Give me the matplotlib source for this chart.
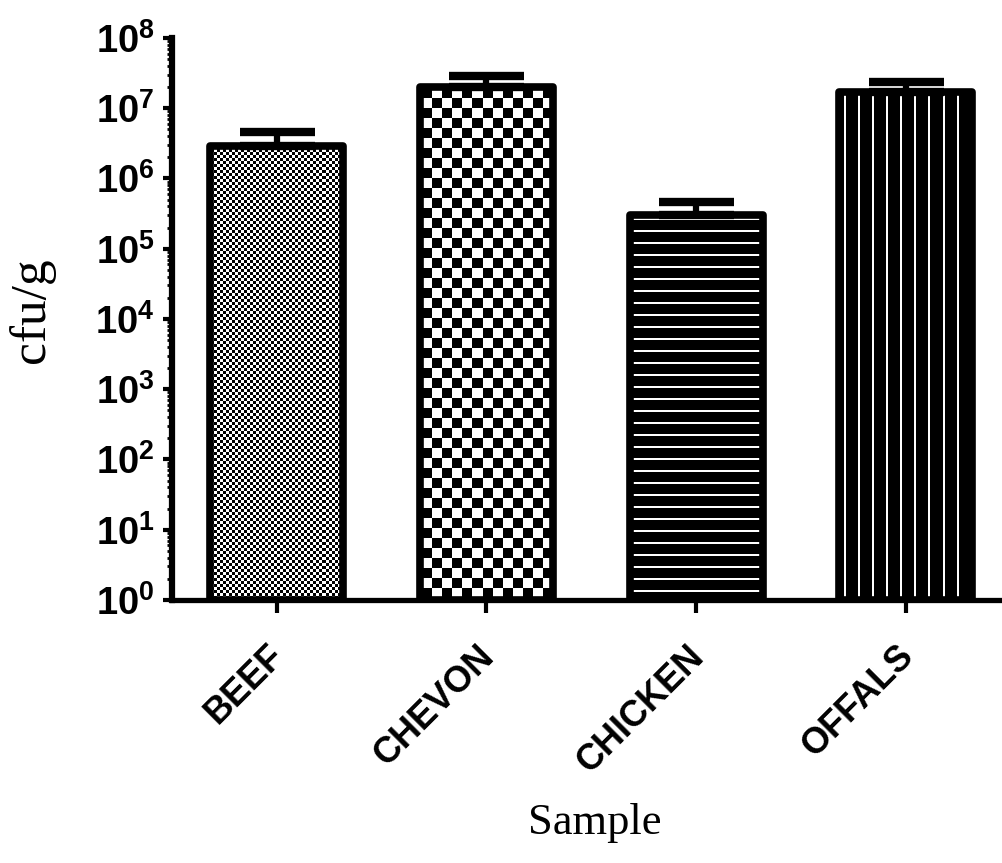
import numpy as np
import matplotlib
matplotlib.use('Agg')
import matplotlib.pyplot as plt
from matplotlib.image import AxesImage
from matplotlib.transforms import ScaledTranslation
from matplotlib.ticker import LogLocator, FuncFormatter, NullFormatter

# data
samples = ['BEEF', 'CHEVON', 'CHICKEN', 'OFFALS']
counts = [2.9e6, 2.0e7, 3.0e5, 1.7e7]      # bar tops, cfu/g
upper = [4.6e6, 2.9e7, 4.6e5, 2.35e7]      # error bar tops
fills = ['fine', 'checker', 'hlines', 'vlines']

plt.rcParams['font.family'] = ['Liberation Sans', 'DejaVu Sans']
plt.rcParams['mathtext.fontset'] = 'custom'
plt.rcParams['mathtext.bf'] = 'Liberation Sans:bold'
plt.rcParams['mathtext.rm'] = 'Liberation Sans:bold'


def pattern(kind, H, W):
    r, c = np.mgrid[0:H, 0:W]
    if kind == 'fine':
        return ((r // 3 + c // 3) % 2).astype(float)
    if kind == 'checker':
        return ((r // 10 + c // 10) % 2).astype(float)
    if kind == 'hlines':
        return (r % 12 < 2).astype(float)
    return (c % 14 < 2).astype(float)


fig = plt.figure(figsize=(10.02, 8.63), dpi=100)
ax = fig.add_axes([0.1717, 0.3048, 0.8263, 0.6512])
ax.set_yscale('log')

x = np.arange(len(samples))
width = 0.635
bars = ax.bar(x, np.array(counts) - 1, width, bottom=1, color='white',
              edgecolor='none', zorder=1)

ext = ax.get_window_extent()
W, H = int(round(ext.width)), int(round(ext.height))
for rect, kind in zip(bars, fills):
    im = AxesImage(ax, cmap='gray', interpolation='nearest', origin='upper',
                   extent=(0, 1, 0, 1), transform=ax.transAxes, zorder=1.5)
    im.set_data(pattern(kind, H, W))
    im.set_clim(0, 1)
    ax.add_image(im)
    im.set_clip_path(rect)

err = [np.zeros(len(counts)), np.array(upper) - np.array(counts)]
ax.errorbar(x, counts, yerr=err, fmt='none', ecolor='black', elinewidth=4.5,
            capsize=27, capthick=6, zorder=1.8)

ax.bar(x, np.array(counts) - 1, width, bottom=1, fill=False, edgecolor='black',
       linewidth=5.5, joinstyle='round', zorder=2)

ax.set_xlim(-0.5, 3.45)
ax.set_ylim(1, 1e8)

ax.yaxis.set_major_locator(LogLocator(base=10, numticks=20))
ax.yaxis.set_minor_locator(LogLocator(base=10, subs=np.arange(2, 10), numticks=20))
ax.yaxis.set_major_formatter(FuncFormatter(lambda v, p: r'$\mathbf{10^{%d}}$' % round(np.log10(v))))
ax.yaxis.set_minor_formatter(NullFormatter())
ax.tick_params(axis='y', which='major', length=6.5, width=3, labelsize=27.5, pad=6)
ax.tick_params(axis='y', which='minor', length=3.5, width=2)
ax.tick_params(axis='x', length=9, width=3, pad=13)

ax.set_xticks(x)
ax.set_xticklabels(samples, rotation=45, ha='right', rotation_mode='anchor',
                   fontsize=26, fontweight='bold')
# nudge the slanted labels a bit left and down, as in the original
shift = ScaledTranslation(-10 / 100, -8 / 100, fig.dpi_scale_trans)
for lab in ax.get_xticklabels():
    lab.set_transform(lab.get_transform() + shift)

for s in ['top', 'right']:
    ax.spines[s].set_visible(False)
ax.spines['left'].set_linewidth(4.5)
ax.spines['bottom'].set_linewidth(3.8)

ax.set_ylabel('cfu/g', family='Liberation Serif', fontsize=37)
ax.yaxis.set_label_coords(-0.141, 0.516)
ax.set_xlabel('Sample', family='Liberation Serif', fontsize=32)
ax.xaxis.set_label_coords(0.51, -0.361)

fig.savefig('out.png', dpi=100)
